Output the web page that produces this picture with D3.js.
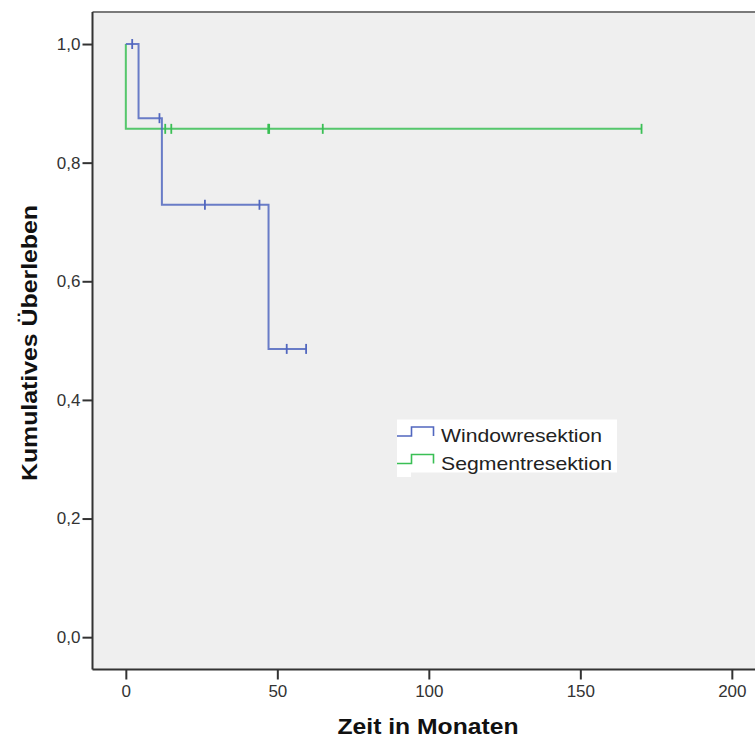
<!DOCTYPE html>
<html><head><meta charset="utf-8">
<script src="https://cdn.jsdelivr.net/npm/d3@7"></script>
<style>body{margin:0;background:#fff}svg{display:block}text{font-family:"Liberation Sans",Arial,sans-serif}</style>
</head><body>
<svg id="c" width="755" height="740"></svg>
<script>
// Data
const seriesNames = ["Windowresektion", "Segmentresektion"];
const windowStepTimes = [0, 4.2, 11.9, 47.1, 59.5];
const windowStepSurv  = [1.0, 0.875, 0.729, 0.486, 0.486];
const windowCensTimes = [2.1, 11.1, 26.1, 44.1, 53.1, 59.5];
const windowCensSurv  = [1.0, 0.875, 0.729, 0.729, 0.486, 0.486];
const segmentStepTimes = [0, 0, 170.2];
const segmentStepSurv  = [1.0, 0.857, 0.857];
const segmentCensTimes = [13.0, 15.0, 47.0, 47.3, 65.0, 170.2];
const segmentCensSurv  = [0.857, 0.857, 0.857, 0.857, 0.857, 0.857];
const xTicks = [0, 50, 100, 150, 200];
const yTicks = [0, 0.2, 0.4, 0.6, 0.8, 1.0];
const xTitle = "Zeit in Monaten";
const yTitle = "Kumulatives Überleben";
const colors = ["#5167bf", "#3abf55"];

const svg = d3.select("#c");
const L = 92.5, T = 12, R = 770, B = 669.5;
const x = d3.scaleLinear().domain([-11, 212]).range([L, L + (212 + 11) * 3.03]);
const y = d3.scaleLinear().domain([-0.0545, 1.054]).range([B, T]);

svg.append("rect").attr("x", L).attr("y", T).attr("width", R - L).attr("height", B - T).attr("fill", "#efefef");
// top border
svg.append("line").attr("x1", L).attr("x2", R).attr("y1", T).attr("y2", T).attr("stroke", "#7a7a7a").attr("stroke-width", 2);

const fmt = d => d3.format(".1f")(d).replace(".", ",");
const yAxis = svg.append("g").attr("transform", `translate(${L},0)`)
  .call(d3.axisLeft(y).tickValues(yTicks).tickFormat(fmt).tickSize(10).tickPadding(2));
const xAxis = svg.append("g").attr("transform", `translate(0,${B})`)
  .call(d3.axisBottom(x).tickValues(xTicks).tickFormat(d3.format("d")).tickSize(10).tickPadding(5));
[yAxis, xAxis].forEach(a => {
  a.select(".domain").attr("stroke", "#333").attr("stroke-width", 2);
  a.selectAll(".tick line").attr("stroke", "#333").attr("stroke-width", 2);
  a.selectAll(".tick text").attr("fill", "#333").style("font-size", "17px");
});
yAxis.select(".domain").attr("d", `M0,${T}V${B}`);
xAxis.select(".domain").attr("d", `M${L},0H${R}`);

// Titles
svg.append("text").attr("x", 428).attr("y", 734).attr("text-anchor", "middle")
  .attr("textLength", 181).attr("lengthAdjust", "spacingAndGlyphs")
  .style("font-size", "22px").style("font-weight", "bold").attr("fill", "#111").text(xTitle);
svg.append("text").attr("transform", "translate(37,343) rotate(-90)").attr("text-anchor", "middle")
  .attr("textLength", 276).attr("lengthAdjust", "spacingAndGlyphs")
  .style("font-size", "22px").style("font-weight", "bold").attr("fill", "#111").text(yTitle);

const line = d3.line().x(d => x(d[0])).y(d => y(d[1])).curve(d3.curveStepAfter);
const series = [
  {st: segmentStepTimes, ss: segmentStepSurv, ct: segmentCensTimes, cs: segmentCensSurv, c: colors[1]},
  {st: windowStepTimes, ss: windowStepSurv, ct: windowCensTimes, cs: windowCensSurv, c: colors[0]}
];
series.forEach(s => {
  const pts = s.st.map((t, i) => [t, s.ss[i]]);
  svg.append("path").attr("d", line(pts)).attr("fill", "none").attr("stroke", s.c).attr("stroke-width", 2).attr("stroke-opacity", 0.85);
  svg.append("g").selectAll("line").data(s.ct.map((t, i) => [t, s.cs[i]])).join("line")
    .attr("x1", d => x(d[0])).attr("x2", d => x(d[0]))
    .attr("y1", d => y(d[1]) - 5).attr("y2", d => y(d[1]) + 5)
    .attr("stroke", s.c).attr("stroke-width", 1.8);
});

// Legend
const lg = svg.append("g");
lg.append("rect").attr("x", 397).attr("y", 419.5).attr("width", 220).attr("height", 53).attr("fill", "#fff");
lg.append("rect").attr("x", 397).attr("y", 470).attr("width", 14).attr("height", 7).attr("fill", "#fff");
const legendLens = [161, 171];
seriesNames.forEach((n, i) => {
  const by = 436 + i * 27.5;
  lg.append("path").attr("d", `M397,${by}H411.5V${by - 9}H433.5V${by}`)
    .attr("fill", "none").attr("stroke", colors[i]).attr("stroke-width", 1.6);
  lg.append("text").attr("x", 441).attr("y", by + 6).style("font-size", "19px")
    .attr("textLength", legendLens[i]).attr("lengthAdjust", "spacingAndGlyphs")
    .attr("fill", "#222").text(n);
});
</script>
</body></html>
